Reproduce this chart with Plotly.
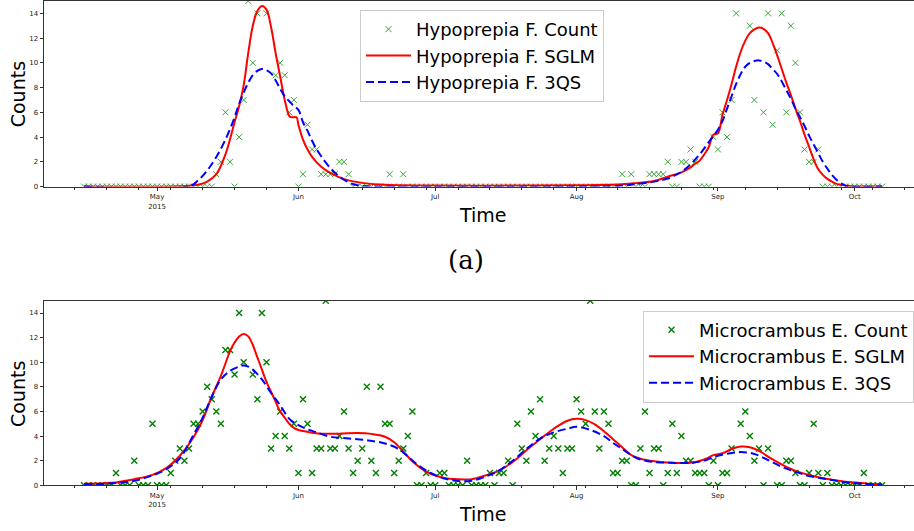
import pandas as pd
import plotly.graph_objects as go

# ---------------- data ----------------
obs_start = "2015-04-15"
obs_end = "2015-10-07"

top_apr = [0, 0, 0, 0, 0, 0, 0, 0, 0, 0, 0, 0, 0, 0, 0, 0]
top_may = [0, 0, 0, 0, 0, 0, 0, 0, 0, 0, 0, 0, 0, 1, 2, 6, 2, 0, 4, 7, 15, 10, 14, None, 14, None, 9, 10, 9, 6, 7]
top_jun = [0, 1, 5, 3, 3, 1, 1, 1, 1, 2, 2, 1, 0, 0, 0, 0, 0, 0, 0, 0, 1, 0, 0, 1, 0, 0, 0, 0, 0, 0]
top_jul = [0, 0, 0, 0, 0, 0, 0, 0, 0, 0, 0, 0, 0, 0, 0, 0, 0, 0, 0, 0, 0, 0, 0, 0, 0, 0, 0, 0, 0, 0, 0]
top_aug = [0, 0, 0, 0, 0, 0, 0, 0, 0, 0, 1, 0, 1, 0, 0, 0, 1, 1, 1, 1, 2, 0, 0, 2, 2, 3, 2, 0, 0, 0, 4]
top_sep = [3, 6, 4, 7, 14, None, None, 13, 7, None, 6, 14, 5, 11, 14, 6, 13, 10, 6, 3, 2, 2, 3, 0, 0, 0, 0, 0, 0, 0]
top_oct = [0, 0, 0, 0, 0, 0, 0]

bot_apr = [0, 0, 0, 0, 0, 0, 0, 1, 0, 0, 0, 2, 0, 0, 0, 5]
bot_may = [0, 0, 0, 1, 2, 3, 2, 3, 5, 5, 6, 8, 7, 6, 5, 11, 11, 9, 14, 10, None, 9, 7, 14, 10, 3, 4, 6, 4, 3, 5]
bot_jun = [1, 7, 5, 1, 3, 3, 15, 3, 3, 4, 6, 3, 1, 2, 3, 8, 2, 1, 8, 5, 5, 1, 2, 3, 4, 6, 0, 0, 1, 0]
bot_jul = [0, 1, 1, 0, 0, 0, 0, 2, 0, 0, 0, 0, 1, 0, 1, 1, 2, 0, 5, 3, 2, 6, 4, 7, 2, 3, 4, 3, 1, 3, 3]
bot_aug = [7, 6, 5, 15, 6, 3, 6, 5, 1, 1, 2, 2, 0, 0, 3, 6, 1, 3, 3, 0, 1, 5, 1, 4, 2, 2, 1, 1, 1, 0, 2]
bot_sep = [0, 1, 1, 3, None, 5, 6, 4, 2, 3, 0, 3, None, 0, 0, 2, 2, 1, 0, 0, 1, 5, 1, 0, 1, 0, 0, 0, 0, 0]
bot_oct = [0, 0, 1, 0, 0, 0, 0]

top_sglm_dates = ["2015-04-15", "2015-05-06", "2015-05-10", "2015-05-12", "2015-05-14", "2015-05-16",
                  "2015-05-18", "2015-05-19", "2015-05-20", "2015-05-21", "2015-05-22", "2015-05-23",
                  "2015-05-24", "2015-05-25", "2015-05-26", "2015-05-27", "2015-05-28", "2015-05-29",
                  "2015-05-30", "2015-05-30 12:00", "2015-05-31 14:00", "2015-06-01", "2015-06-02",
                  "2015-06-03", "2015-06-04", "2015-06-06", "2015-06-08", "2015-06-10", "2015-06-12",
                  "2015-06-15", "2015-06-20", "2015-07-01", "2015-07-20", "2015-08-01", "2015-08-10",
                  "2015-08-14", "2015-08-18", "2015-08-21", "2015-08-24", "2015-08-26", "2015-08-27",
                  "2015-08-28", "2015-08-29", "2015-08-30", "2015-08-31", "2015-09-01", "2015-09-02",
                  "2015-09-03", "2015-09-04", "2015-09-05", "2015-09-06", "2015-09-07", "2015-09-08",
                  "2015-09-09", "2015-09-10", "2015-09-11", "2015-09-12", "2015-09-13", "2015-09-14",
                  "2015-09-15", "2015-09-16", "2015-09-17", "2015-09-18", "2015-09-19", "2015-09-20",
                  "2015-09-21", "2015-09-22", "2015-09-23", "2015-09-24", "2015-09-25", "2015-09-26",
                  "2015-09-27", "2015-09-29", "2015-10-01", "2015-10-07"]
top_sglm_vals = [0, 0.02, 0.15, 0.4, 1.0, 2.6,
                 5.2, 6.5, 8.2, 10.8, 13.0, 14.2,
                 14.6, 14.3, 12.9, 10.8, 8.9, 7.0,
                 5.7, 5.6, 5.6, 5.0, 3.8,
                 3.0, 2.4, 1.6, 1.1, 0.75, 0.5,
                 0.3, 0.14, 0.08, 0.08, 0.1, 0.16,
                 0.28, 0.45, 0.8, 1.15, 1.55, 1.85,
                 2.1, 2.6, 3.2, 4.2, 4.3, 5.8,
                 7.0, 8.3, 9.7, 10.9, 11.8, 12.4,
                 12.7, 12.85, 12.75, 12.4, 11.6, 10.6,
                 9.5, 8.4, 7.4, 6.3, 5.3, 4.2,
                 3.2, 2.2, 1.4, 0.95, 0.62, 0.4,
                 0.22, 0.06, 0.01, 0]

top_3qs_dates = ["2015-04-15", "2015-05-08", "2015-05-10", "2015-05-12", "2015-05-14", "2015-05-16",
                 "2015-05-18", "2015-05-19", "2015-05-20", "2015-05-21", "2015-05-22", "2015-05-23",
                 "2015-05-24", "2015-05-25", "2015-05-26", "2015-05-27", "2015-05-28", "2015-05-29",
                 "2015-05-30", "2015-05-31", "2015-06-01", "2015-06-02", "2015-06-03", "2015-06-04",
                 "2015-06-05", "2015-06-06", "2015-06-08", "2015-06-10", "2015-06-12", "2015-06-14",
                 "2015-06-16", "2015-08-01", "2015-08-10", "2015-08-14", "2015-08-18", "2015-08-21",
                 "2015-08-24", "2015-08-26", "2015-08-28", "2015-08-30", "2015-09-01", "2015-09-02",
                 "2015-09-03", "2015-09-04", "2015-09-05", "2015-09-06", "2015-09-07", "2015-09-08",
                 "2015-09-09", "2015-09-10", "2015-09-11", "2015-09-12", "2015-09-13", "2015-09-14",
                 "2015-09-15", "2015-09-16", "2015-09-17", "2015-09-18", "2015-09-19", "2015-09-20",
                 "2015-09-21", "2015-09-22", "2015-09-23", "2015-09-24", "2015-09-25", "2015-09-26",
                 "2015-09-27", "2015-09-28", "2015-09-29", "2015-09-30", "2015-10-07"]
top_3qs_vals = [0, 0, 0.5, 1.3, 2.4, 3.8,
                5.6, 6.7, 7.6, 8.4, 9.0, 9.35,
                9.5, 9.4, 9.15, 8.6, 7.9, 7.3,
                6.9, 6.5, 6.2, 5.2, 4.5, 3.7,
                3.0, 2.45, 1.5, 0.8, 0.35, 0.1,
                0.02, 0.0, 0.05, 0.2, 0.4, 0.65,
                1.2, 1.8, 2.6, 3.6, 4.6, 5.3,
                6.3, 7.3, 8.3, 9.1, 9.7, 10.0,
                10.15, 10.2, 10.1, 9.9, 9.5, 9.1,
                8.5, 7.8, 7.1, 6.3, 5.6, 4.9,
                4.1, 3.4, 2.7, 2.0, 1.45, 0.95,
                0.55, 0.27, 0.08, 0, 0]

bot_sglm_dates = ["2015-04-15", "2015-04-21", "2015-04-26", "2015-04-30", "2015-05-03", "2015-05-06",
                  "2015-05-09", "2015-05-11", "2015-05-13", "2015-05-15", "2015-05-16", "2015-05-17",
                  "2015-05-18", "2015-05-19", "2015-05-20", "2015-05-21", "2015-05-22", "2015-05-23",
                  "2015-05-24", "2015-05-25", "2015-05-26", "2015-05-27", "2015-05-28", "2015-05-29",
                  "2015-05-30", "2015-05-31", "2015-06-01", "2015-06-03", "2015-06-06", "2015-06-10",
                  "2015-06-14", "2015-06-17", "2015-06-20", "2015-06-22", "2015-06-24", "2015-06-26",
                  "2015-06-28", "2015-06-30", "2015-07-03", "2015-07-06", "2015-07-09", "2015-07-12",
                  "2015-07-15", "2015-07-18", "2015-07-21", "2015-07-24", "2015-07-27", "2015-07-30",
                  "2015-08-01", "2015-08-03", "2015-08-05", "2015-08-07", "2015-08-09", "2015-08-11",
                  "2015-08-13", "2015-08-15", "2015-08-18", "2015-08-22", "2015-08-26", "2015-08-29",
                  "2015-08-31", "2015-09-02", "2015-09-04", "2015-09-06", "2015-09-08", "2015-09-10",
                  "2015-09-13", "2015-09-16", "2015-09-19", "2015-09-23", "2015-09-27", "2015-10-01",
                  "2015-10-04", "2015-10-07"]
bot_sglm_vals = [0.13, 0.2, 0.5, 0.85, 1.4, 2.4,
                 3.9, 5.3, 7.2, 8.9, 9.9, 10.9,
                 11.6, 12.1, 12.3, 12.1, 11.4, 10.4,
                 9.4, 8.4, 7.6, 6.8, 6.0, 5.5,
                 5.0, 4.67, 4.5, 4.35, 4.2, 4.2,
                 4.25, 4.18, 3.95, 3.5, 2.75, 1.95,
                 1.35, 0.94, 0.6, 0.49, 0.5, 0.8,
                 1.2, 1.9, 2.85, 3.75, 4.6, 5.25,
                 5.4, 5.3, 4.95, 4.4, 3.75, 3.1,
                 2.45, 2.16, 1.95, 1.83, 1.83, 2.1,
                 2.45, 2.6, 2.95, 3.15, 3.1, 2.8,
                 2.1, 1.5, 1.05, 0.65, 0.4, 0.22,
                 0.13, 0.08]

bot_3qs_dates = ["2015-04-15", "2015-04-25", "2015-04-30", "2015-05-03", "2015-05-06", "2015-05-09",
                 "2015-05-11", "2015-05-13", "2015-05-15", "2015-05-17", "2015-05-19", "2015-05-20",
                 "2015-05-21", "2015-05-22", "2015-05-24", "2015-05-26", "2015-05-28", "2015-05-30",
                 "2015-06-01", "2015-06-03", "2015-06-05", "2015-06-08", "2015-06-12", "2015-06-16",
                 "2015-06-20", "2015-06-23", "2015-06-25", "2015-06-27", "2015-06-30", "2015-07-03",
                 "2015-07-06", "2015-07-09", "2015-07-12", "2015-07-15", "2015-07-18", "2015-07-21",
                 "2015-07-24", "2015-07-27", "2015-07-30", "2015-08-01", "2015-08-04", "2015-08-07",
                 "2015-08-09", "2015-08-11", "2015-08-13", "2015-08-15", "2015-08-18", "2015-08-22",
                 "2015-08-26", "2015-08-29", "2015-08-31", "2015-09-03", "2015-09-06", "2015-09-09",
                 "2015-09-12", "2015-09-15", "2015-09-18", "2015-09-21", "2015-09-25", "2015-09-29",
                 "2015-10-03", "2015-10-07"]
bot_3qs_vals = [0.08, 0.3, 0.8, 1.3, 2.2, 4.1,
                5.5, 7.2, 8.6, 9.3, 9.65, 9.74,
                9.65, 9.4, 8.6, 7.5, 6.5, 5.4,
                4.9, 4.55, 4.3, 3.95, 3.8, 3.66,
                3.4, 2.95, 2.35, 1.7, 1.0, 0.55,
                0.35, 0.37, 0.7, 1.2, 2.0, 2.95,
                3.8, 4.3, 4.6, 4.75, 4.5, 4.0,
                3.45, 2.95, 2.45, 2.1, 1.9, 1.83,
                1.83, 2.0, 2.3, 2.56, 2.7, 2.55,
                2.05, 1.5, 1.1, 0.76, 0.49, 0.25,
                0.12, 0.05]

month_ticks = ["2015-05-01", "2015-06-01", "2015-07-01", "2015-08-01", "2015-09-01", "2015-10-01"]
month_labels = ["May<br>2015", "Jun", "Jul", "Aug", "Sep", "Oct"]
y_ticks = [0, 2, 4, 6, 8, 10, 12, 14]

top_names = ["Hypoprepia F. Count", "Hypoprepia F. SGLM", "Hypoprepia F. 3QS"]
bot_names = ["Microcrambus E. Count", "Microcrambus E. SGLM", "Microcrambus E. 3QS"]

# ---------------- figure ----------------
days = pd.date_range(obs_start, obs_end, freq="D")
top_counts = top_apr + top_may + top_jun + top_jul + top_aug + top_sep + top_oct
bot_counts = bot_apr + bot_may + bot_jun + bot_jul + bot_aug + bot_sep + bot_oct

W, H = 914, 531
FONT = "DejaVu Sans"
AX = "#333333"

fig = go.Figure()

def add_panel(counts, sd, sv, qd, qv, names, xa, ya, leg, mcol, mw):
    fig.add_trace(go.Scatter(x=days, y=counts, mode="markers", name=names[0],
                             marker=dict(symbol="x-thin", size=6, line=dict(color=mcol, width=mw), color=mcol),
                             xaxis=xa, yaxis=ya, legend=leg))
    fig.add_trace(go.Scatter(x=sd, y=sv, mode="lines", name=names[1], line_shape="spline",
                             line=dict(color="red", width=2), xaxis=xa, yaxis=ya, legend=leg))
    fig.add_trace(go.Scatter(x=qd, y=qv, mode="lines", name=names[2], line_shape="spline",
                             line=dict(color="blue", width=2, dash="8px,4px"), xaxis=xa, yaxis=ya, legend=leg))

add_panel(top_counts, top_sglm_dates, top_sglm_vals, top_3qs_dates, top_3qs_vals, top_names,
          "x", "y", "legend", "#3aa53a", 1)
add_panel(bot_counts, bot_sglm_dates, bot_sglm_vals, bot_3qs_dates, bot_3qs_vals, bot_names,
          "x2", "y2", "legend2", "#008000", 1.4)

x_range = ["2015-04-06 05:00", "2015-10-14 00:00"]
x_dom = [44 / W, 1.0]

def xaxis_cfg(anchor):
    return dict(domain=x_dom, anchor=anchor, range=x_range, type="date",
                tickmode="array", tickvals=month_ticks, ticktext=month_labels,
                ticks="outside", ticklen=3.5, tickwidth=1, tickcolor=AX,
                showline=True, linecolor=AX, linewidth=1, mirror=True,
                showgrid=False, zeroline=False,
                tickfont=dict(family=FONT, size=7, color="#222"),
                minor=dict(ticks="outside", ticklen=2, tickwidth=1, tickcolor=AX,
                           tick0="2015-04-13", dtick=7 * 86400000, showgrid=False))

def yaxis_cfg(anchor, dom):
    return dict(domain=dom, anchor=anchor, range=[0, 15], tickmode="array", tickvals=y_ticks,
                ticks="outside", ticklen=3.5, tickwidth=1, tickcolor=AX,
                showline=True, linecolor=AX, linewidth=1, mirror=False,
                showgrid=False, zeroline=False,
                tickfont=dict(family=FONT, size=7, color="#222"))

legend_common = dict(xanchor="left", yanchor="top", bordercolor="#cccccc", borderwidth=1,
                     bgcolor="rgba(255,255,255,0.85)", font=dict(family=FONT, size=18, color="black"),
                     tracegroupgap=0, itemwidth=45)

def label(text, x, y, angle=0, family=FONT, size=18):
    return dict(text=text, x=x / W, y=1 - y / H, xref="paper", yref="paper", textangle=angle,
                xanchor="center", yanchor="middle", showarrow=False,
                font=dict(family=family, size=size, color="black"))

fig.update_layout(
    width=W, height=H, margin=dict(l=0, r=0, t=0, b=0),
    paper_bgcolor="white", plot_bgcolor="white",
    xaxis=xaxis_cfg("y"), yaxis=yaxis_cfg("x", [1 - 188 / H, 1 - 1 / H]),
    xaxis2=xaxis_cfg("y2"), yaxis2=yaxis_cfg("x2", [1 - 489 / H, 1 - 303 / H]),
    legend=dict(x=360 / W, y=1 - 10 / H, **legend_common),
    legend2=dict(x=643 / W, y=1 - 313 / H, **legend_common),
    showlegend=True,
    annotations=[
        label("Counts", 18, 95, angle=-90, size=19),
        label("Counts", 18, 397, angle=-90, size=19),
        label("Time", 483, 217, size=19),
        label("Time", 483, 518, size=19),
        label("(a)", 466, 262, family="DejaVu Serif", size=26),
    ],
)

fig.write_html("out.html", config={"displayModeBar": False},
               post_script="document.body.style.margin='0';document.body.style.overflow='hidden';")
